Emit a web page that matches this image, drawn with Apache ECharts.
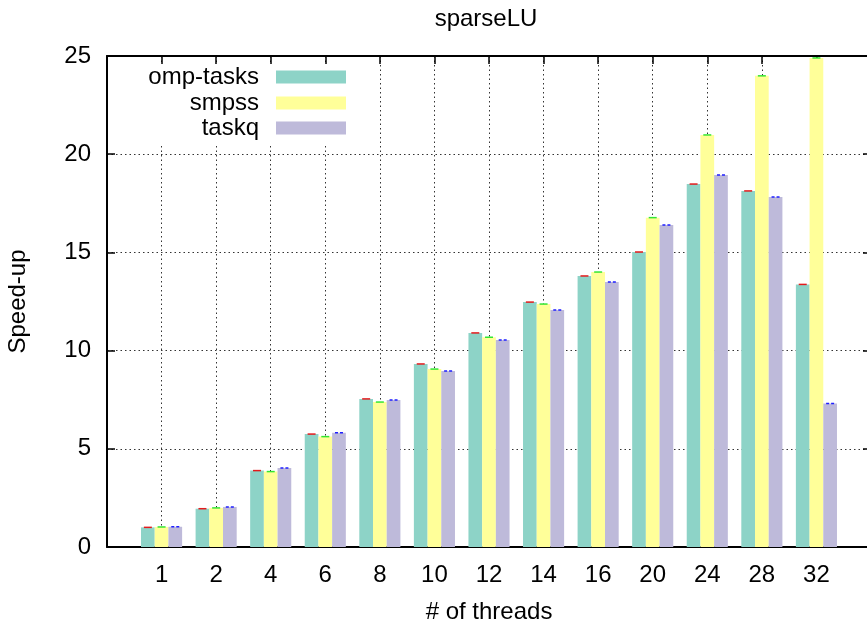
<!DOCTYPE html>
<html>
<head>
<meta charset="utf-8">
<script src="https://cdn.jsdelivr.net/npm/echarts@6/dist/echarts.min.js"></script>
<style>
  html, body { margin: 0; padding: 0; background: #fff; }
  #chart { width: 867px; height: 624px; }
</style>
</head>
<body>
<div id="chart"></div>
<script>
// Thread counts along the x axis
const threads = ['1', '2', '4', '6', '8', '10', '12', '14', '16', '20', '24', '28', '32'];
// Speed-up per runtime
const ompTasks = [1.00, 1.95, 3.89, 5.75, 7.54, 9.32, 10.90, 12.47, 13.80, 15.02, 18.48, 18.13, 13.37];
const smpss    = [1.02, 1.99, 3.84, 5.62, 7.38, 9.06, 10.68, 12.37, 14.00, 16.77, 20.98, 23.99, 24.90];
const taskq    = [1.03, 2.04, 4.02, 5.82, 7.48, 8.96, 10.54, 12.07, 13.49, 16.40, 18.94, 17.82, 7.31];
const yTicks = [0, 5, 10, 15, 20, 25];

const FONT = 'Liberation Sans, Arial, Helvetica, sans-serif';
const FS = 24;
const BAR_W = 13.7;

const chart = echarts.init(document.getElementById('chart'), null, { renderer: 'canvas' });

const toPairs = vals => vals.map((v, i) => [i, v]);

// small error-bar caps on top of each bar
function capSeries(name, vals, offset, color, dash) {
  return {
    type: 'custom',
    name: name + '-cap',
    xAxisIndex: 0, yAxisIndex: 0,
    z: 5,
    silent: true,
    data: toPairs(vals),
    renderItem: function (params, api) {
      const p = api.coord([api.value(0), api.value(1)]);
      const cx = p[0] + offset;
      return {
        type: 'line',
        shape: { x1: cx - 4, y1: p[1], x2: cx + 4, y2: p[1] },
        style: { stroke: color, lineWidth: 1.5, lineDash: dash || null }
      };
    }
  };
}

const dotted = { color: '#333', width: 1, type: [1.5, 3] };

const legendBase = {
  orient: 'vertical', align: 'right', right: 521, padding: 0,
  itemWidth: 70, itemHeight: 13, selectedMode: false,
  icon: 'rect',
  textStyle: { fontFamily: FONT, fontSize: FS, color: '#000', padding: [0, 12, 0, 0] }
};

const option = {
  backgroundColor: '#fff',
  animation: false,
  title: {
    text: 'sparseLU', left: 486, top: 7, textAlign: 'center', padding: 0,
    textStyle: { fontFamily: FONT, fontSize: FS, fontWeight: 'normal', color: '#000' }
  },
  legend: [
    Object.assign({}, legendBase, { top: 65, data: ['omp-tasks'] }),
    Object.assign({}, legendBase, { top: 91, data: ['smpss'] }),
    Object.assign({}, legendBase, { top: 116, data: ['taskq'] })
  ],
  graphic: {
    elements: [{
      type: 'rect', z: 1, silent: true,
      shape: { x: 109, y: 64, width: 246, height: 79 },
      style: { fill: '#fff' }
    }]
  },
  grid: { left: 107, width: 764, top: 56, bottom: 77, containLabel: false, outerBoundsMode: 'none' },
  xAxis: [{
    type: 'value', min: -1, max: 13, interval: 1, position: 'bottom',
    axisLine: { show: true, onZero: false, lineStyle: { color: '#000', width: 2 } },
    axisTick: { show: true, inside: true, length: 8, lineStyle: { color: '#000', width: 1.5 } },
    axisLabel: {
      margin: 16, fontFamily: FONT, fontSize: FS, color: '#000',
      formatter: v => (v >= 0 && v < threads.length) ? threads[v] : ''
    },
    splitLine: { show: true, lineStyle: dotted },
    name: '# of threads', nameLocation: 'middle', nameGap: 53,
    nameTextStyle: { fontFamily: FONT, fontSize: FS, color: '#000' }
  }, {
    type: 'value', min: -1, max: 13, interval: 1, position: 'top',
    axisLine: { show: true, onZero: false, lineStyle: { color: '#000', width: 2 } },
    axisTick: { show: true, inside: true, length: 8, lineStyle: { color: '#000', width: 1.5 } },
    axisLabel: { show: false },
    splitLine: { show: false }
  }],
  yAxis: [{
    type: 'value', min: yTicks[0], max: yTicks[yTicks.length - 1], interval: 5, position: 'left',
    axisLine: { show: true, onZero: false, lineStyle: { color: '#000', width: 2 } },
    axisTick: { show: true, inside: true, length: 8, lineStyle: { color: '#000', width: 1.5 } },
    axisLabel: { margin: 16, fontFamily: FONT, fontSize: FS, color: '#000' },
    splitLine: { show: true, lineStyle: dotted },
    name: 'Speed-up', nameLocation: 'middle', nameGap: 77,
    nameTextStyle: { fontFamily: FONT, fontSize: FS, color: '#000' }
  }, {
    type: 'value', min: yTicks[0], max: yTicks[yTicks.length - 1], interval: 5, position: 'right',
    axisLine: { show: true, onZero: false, lineStyle: { color: '#000', width: 2 } },
    axisTick: { show: true, inside: true, length: 8, lineStyle: { color: '#000', width: 1.5 } },
    axisLabel: { show: false },
    splitLine: { show: false }
  }],
  series: [
    { name: 'omp-tasks', type: 'bar', data: toPairs(ompTasks), barWidth: BAR_W, barGap: '0%',
      itemStyle: { color: '#8dd3c7' }, z: 2 },
    { name: 'smpss', type: 'bar', data: toPairs(smpss), barWidth: BAR_W, barGap: '0%',
      itemStyle: { color: '#ffff99' }, z: 2 },
    { name: 'taskq', type: 'bar', data: toPairs(taskq), barWidth: BAR_W, barGap: '0%',
      itemStyle: { color: '#bebada' }, z: 2 },
    capSeries('omp-tasks', ompTasks, -BAR_W, '#e31a1c'),
    capSeries('smpss', smpss, 0, '#33e633'),
    capSeries('taskq', taskq, BAR_W, '#1f1fff', [3, 2])
  ]
};

chart.setOption(option);
</script>
</body>
</html>
